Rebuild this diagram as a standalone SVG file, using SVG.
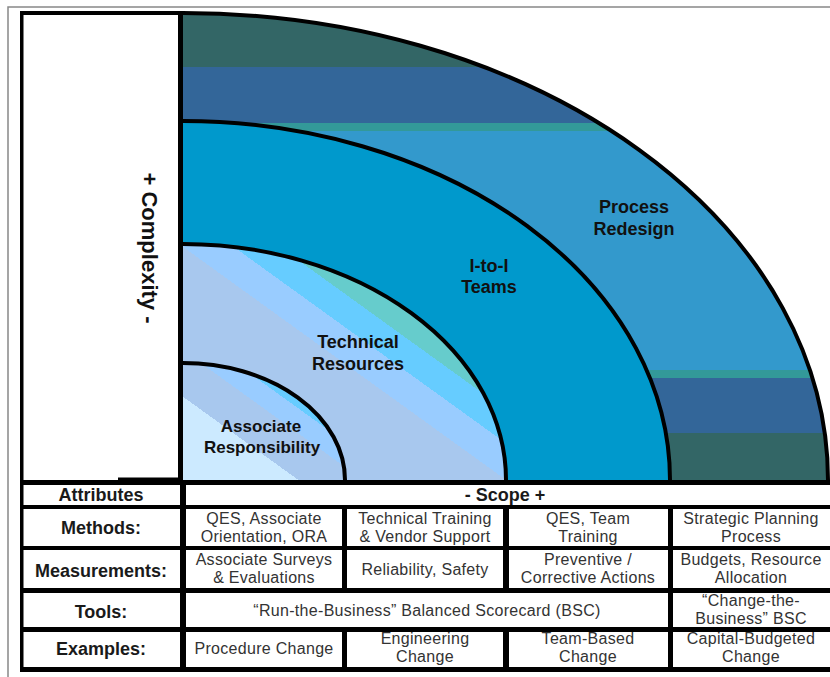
<svg xmlns="http://www.w3.org/2000/svg" width="830" height="677" viewBox="0 0 830 677">
  <defs>
    <style>
      .arc { fill: none; stroke: #000; stroke-width: 4; }
      .band-label { font-family: "Liberation Sans", Arial, sans-serif; font-weight: bold; font-size: 18px; fill: #111; text-anchor: middle; }
      .row-label { font-family: "Liberation Sans", Arial, sans-serif; font-weight: bold; font-size: 18px; fill: #1a1a1a; text-anchor: middle; }
      .cell-text { font-family: "Liberation Sans", Arial, sans-serif; font-size: 16px; letter-spacing: 0.3px; fill: #333; text-anchor: middle; }
      .cell { fill: #fff; }
    </style>
    <clipPath id="outerClip">
      <path d="M183,480 V13 A645,467 0 0 1 828,480 Z"/>
    </clipPath>
    <!-- diagonal shading of the inner two rings -->
    <linearGradient id="techFill" gradientUnits="userSpaceOnUse" x1="183" y1="480" x2="341" y2="261">
      <stop offset="0" stop-color="#A8C8EE"/>
      <stop offset="0.70" stop-color="#A8C8EE"/>
      <stop offset="0.70" stop-color="#99CCFF"/>
      <stop offset="0.81" stop-color="#99CCFF"/>
      <stop offset="0.81" stop-color="#66CCFF"/>
      <stop offset="0.91" stop-color="#66CCFF"/>
      <stop offset="0.91" stop-color="#66CCCC"/>
      <stop offset="1" stop-color="#66CCCC"/>
    </linearGradient>
    <linearGradient id="assocFill" gradientUnits="userSpaceOnUse" x1="183" y1="480" x2="262" y2="370.5">
      <stop offset="0" stop-color="#CCEAFF"/>
      <stop offset="0.5" stop-color="#CCEAFF"/>
      <stop offset="0.5" stop-color="#A8C8EE"/>
      <stop offset="0.78" stop-color="#A8C8EE"/>
      <stop offset="0.78" stop-color="#99CCFF"/>
      <stop offset="0.93" stop-color="#99CCFF"/>
      <stop offset="0.93" stop-color="#66CCFF"/>
      <stop offset="1" stop-color="#66CCFF"/>
    </linearGradient>
  </defs>

  <rect x="0" y="0" width="830" height="677" fill="#fff"/>

  <!-- thin grey page edge -->
  <path d="M8,677 V7 H830" fill="none" stroke="#888" stroke-width="1.5"/>

  <!-- outer ring: Process Redesign -->
  <g id="process-redesign">
    <g clip-path="url(#outerClip)">
      <rect x="183" y="13" width="647" height="54" fill="#336666"/>
      <rect x="183" y="67" width="647" height="56" fill="#336699"/>
      <rect x="183" y="123" width="647" height="8" fill="#339999"/>
      <rect x="183" y="131" width="647" height="239" fill="#3399CC"/>
      <rect x="183" y="370" width="647" height="8" fill="#339999"/>
      <rect x="183" y="378" width="647" height="55" fill="#336699"/>
      <rect x="183" y="433" width="647" height="47" fill="#336666"/>
    </g>
    <path class="arc" d="M183,13 A645,467 0 0 1 828,480"/>
  </g>

  <!-- I-to-I Teams ring -->
  <g id="i-to-i-teams">
    <path d="M183,480 V121 A487,359 0 0 1 670,480 Z" fill="#0099CC"/>
    <path class="arc" d="M183,121 A487,359 0 0 1 670,480"/>
  </g>

  <!-- Technical Resources ring -->
  <g id="technical-resources">
    <path d="M183,480 V244 A323,236 0 0 1 506,480 Z" fill="url(#techFill)"/>
    <path class="arc" d="M183,244 A323,236 0 0 1 506,480"/>
  </g>

  <!-- Associate Responsibility core -->
  <g id="associate-responsibility">
    <path d="M183,480 V363 A162,117 0 0 1 345,480 Z" fill="url(#assocFill)"/>
    <path class="arc" d="M183,363 A162,117 0 0 1 345,480"/>
  </g>

  <!-- ring labels -->
  <g id="ring-labels">
    <text class="band-label" x="634" y="213">Process</text>
    <text class="band-label" x="634" y="235">Redesign</text>
    <text class="band-label" x="489" y="272">I-to-I</text>
    <text class="band-label" x="489" y="293">Teams</text>
    <text class="band-label" x="358" y="348">Technical</text>
    <text class="band-label" x="358" y="370">Resources</text>
    <text class="band-label" x="261" y="432" style="font-size:17px">Associate</text>
    <text class="band-label" x="262" y="453" style="font-size:17px">Responsibility</text>
  </g>

  <!-- vertical axis label -->
  <g id="complexity-axis">
    <text class="band-label" transform="translate(142,248) rotate(90)" style="font-size:22px">+ Complexity -</text>
  </g>

  <!-- table: black ground with white cells -->
  <g id="table">
    <rect x="20" y="480" width="810" height="192" fill="#000"/>
    <rect x="118" y="477.5" width="62" height="4" fill="#000"/>

    <g id="row-attributes">
      <rect class="cell" x="23.5" y="485" width="156.5" height="20"/>
      <rect class="cell" x="186" y="485" width="644" height="20"/>
      <text class="row-label" x="101" y="501">Attributes</text>
      <text class="row-label" x="505" y="501">- Scope +</text>
    </g>

    <g id="row-methods">
      <rect class="cell" x="23.5" y="509" width="156.5" height="37"/>
      <rect class="cell" x="186" y="509" width="156" height="37"/>
      <rect class="cell" x="347" y="509" width="156" height="37"/>
      <rect class="cell" x="509" y="509" width="159" height="37"/>
      <rect class="cell" x="673" y="509" width="157" height="37"/>
      <text class="row-label" x="101" y="534">Methods:</text>
      <text class="cell-text" x="264" y="524">QES, Associate</text>
      <text class="cell-text" x="264" y="542">Orientation, ORA</text>
      <text class="cell-text" x="425" y="524">Technical Training</text>
      <text class="cell-text" x="425" y="542">&amp; Vendor Support</text>
      <text class="cell-text" x="588" y="524">QES, Team</text>
      <text class="cell-text" x="588" y="542">Training</text>
      <text class="cell-text" x="751" y="524">Strategic Planning</text>
      <text class="cell-text" x="751" y="542">Process</text>
    </g>

    <g id="row-measurements">
      <rect class="cell" x="23.5" y="550" width="156.5" height="38"/>
      <rect class="cell" x="186" y="550" width="156" height="38"/>
      <rect class="cell" x="347" y="550" width="156" height="38"/>
      <rect class="cell" x="509" y="550" width="159" height="38"/>
      <rect class="cell" x="673" y="550" width="157" height="38"/>
      <text class="row-label" x="101" y="577">Measurements:</text>
      <text class="cell-text" x="264" y="565">Associate Surveys</text>
      <text class="cell-text" x="264" y="583">&amp; Evaluations</text>
      <text class="cell-text" x="425" y="575">Reliability, Safety</text>
      <text class="cell-text" x="588" y="565">Preventive /</text>
      <text class="cell-text" x="588" y="583">Corrective Actions</text>
      <text class="cell-text" x="751" y="565">Budgets, Resource</text>
      <text class="cell-text" x="751" y="583">Allocation</text>
    </g>

    <g id="row-tools">
      <rect class="cell" x="23.5" y="593" width="156.5" height="34"/>
      <rect class="cell" x="186" y="593" width="482" height="34"/>
      <rect class="cell" x="673" y="593" width="157" height="34"/>
      <text class="row-label" x="101" y="618">Tools:</text>
      <text class="cell-text" x="427" y="616">“Run-the-Business” Balanced Scorecard (BSC)</text>
      <text class="cell-text" x="751" y="606">“Change-the-</text>
      <text class="cell-text" x="751" y="624">Business” BSC</text>
    </g>

    <g id="row-examples">
      <rect class="cell" x="23.5" y="632" width="156.5" height="35"/>
      <rect class="cell" x="186" y="632" width="156" height="35"/>
      <rect class="cell" x="347" y="632" width="156" height="35"/>
      <rect class="cell" x="509" y="632" width="159" height="35"/>
      <rect class="cell" x="673" y="632" width="157" height="35"/>
      <text class="row-label" x="101" y="655">Examples:</text>
      <text class="cell-text" x="264" y="654">Procedure Change</text>
      <text class="cell-text" x="425" y="644">Engineering</text>
      <text class="cell-text" x="425" y="662">Change</text>
      <text class="cell-text" x="588" y="644">Team-Based</text>
      <text class="cell-text" x="588" y="662">Change</text>
      <text class="cell-text" x="751" y="644">Capital-Budgeted</text>
      <text class="cell-text" x="751" y="662">Change</text>
    </g>
  </g>

  <!-- chart frame -->
  <g id="frame">
    <rect x="20" y="11" width="3.5" height="470" fill="#000"/>
    <rect x="20" y="11" width="163" height="4" fill="#000"/>
    <rect x="178" y="11" width="5" height="474" fill="#000"/>
    <rect x="20" y="480" width="810" height="5" fill="#000"/>
  </g>
</svg>
